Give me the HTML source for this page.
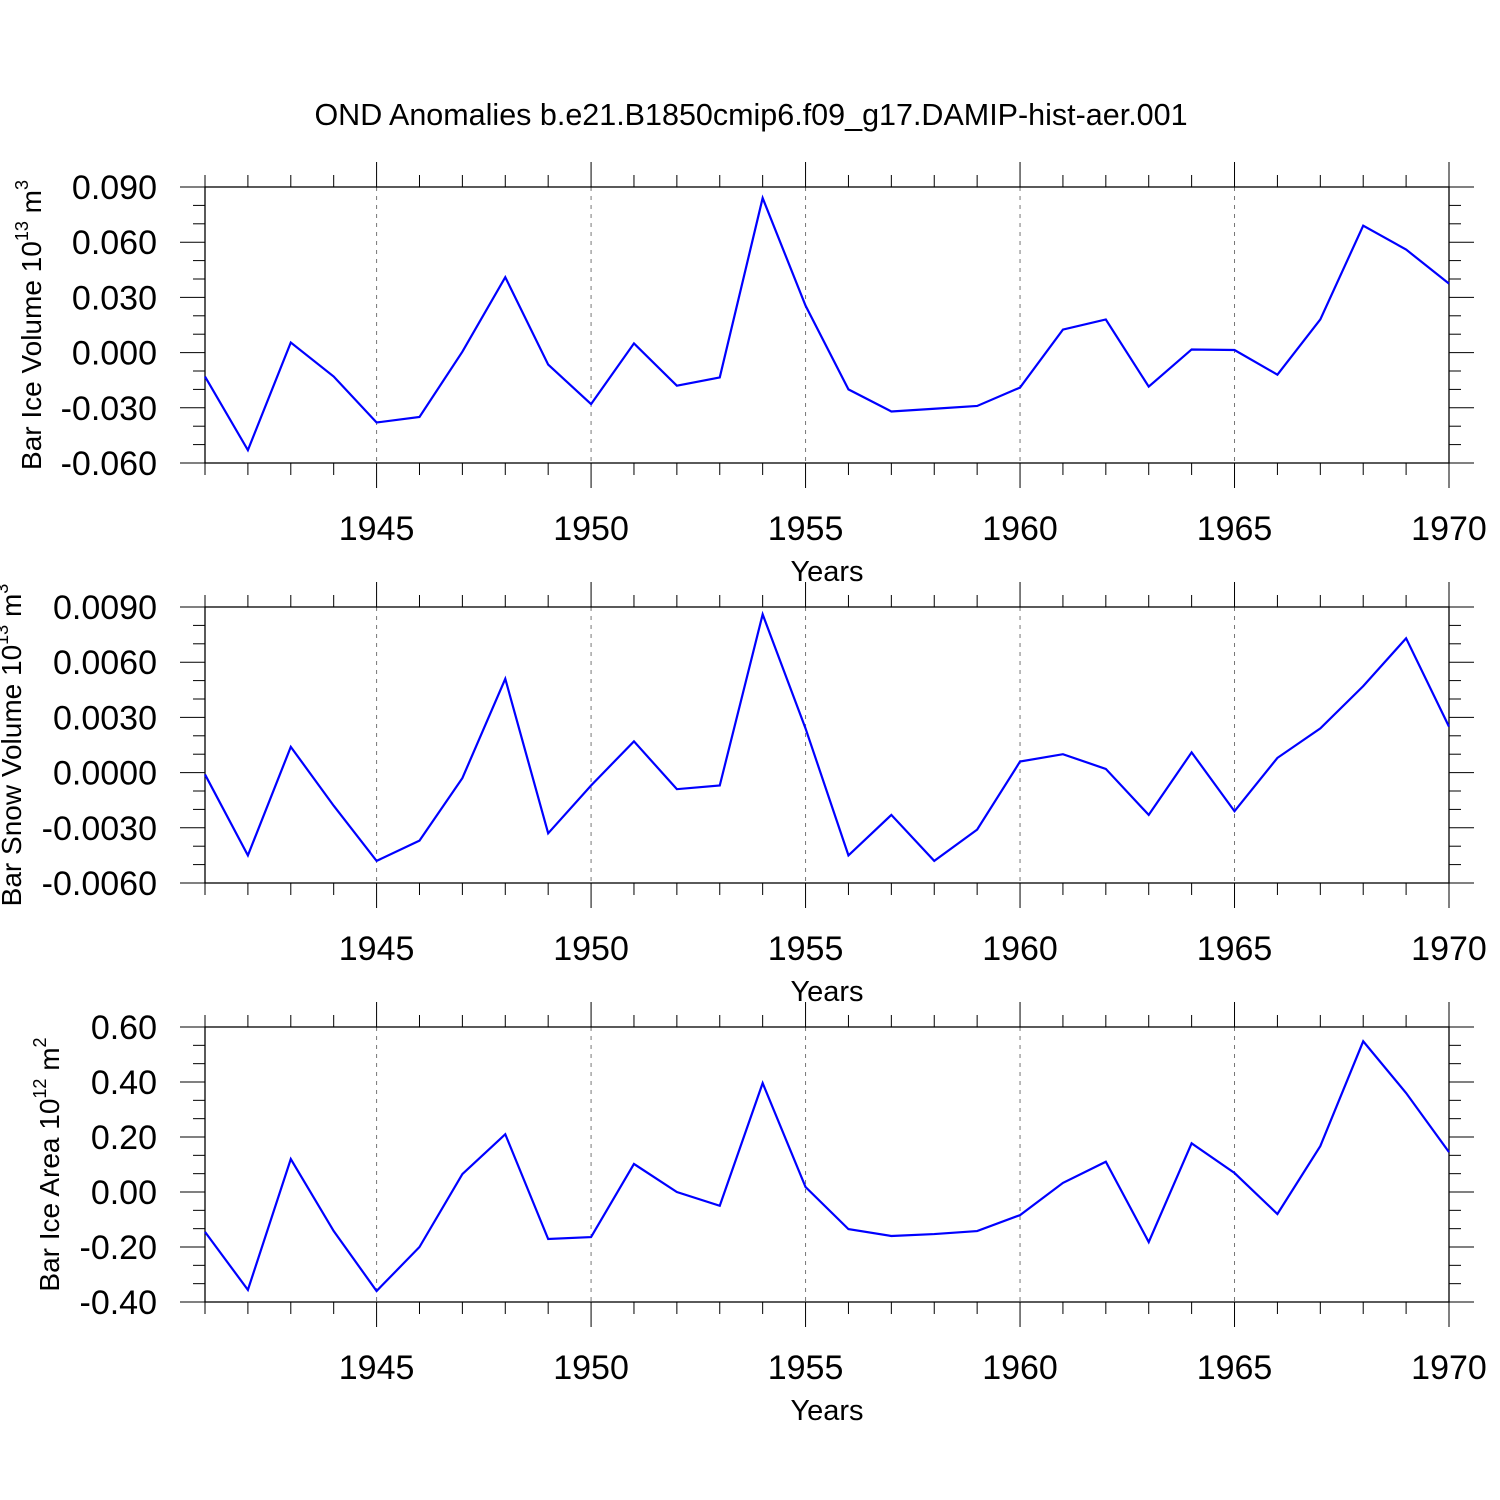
<!DOCTYPE html>
<html><head><meta charset="utf-8"><style>
html,body{margin:0;padding:0;background:#fff}
svg{display:block;font-family:"Liberation Sans",Arial,sans-serif}
</style></head><body>
<svg id="chart" width="1500" height="1500" viewBox="0 0 1500 1500">
<rect width="1500" height="1500" fill="#fff"/>
<text x="751" y="125" font-size="30.5" text-anchor="middle">OND Anomalies b.e21.B1850cmip6.f09_g17.DAMIP-hist-aer.001</text>
</svg>
<script>
const years = [1941,1942,1943,1944,1945,1946,1947,1948,1949,1950,1951,1952,1953,1954,1955,1956,1957,1958,1959,1960,1961,1962,1963,1964,1965,1966,1967,1968,1969,1970];
const iceVolume = [-0.013,-0.053,0.0055,-0.013,-0.038,-0.035,0.0005,0.041,-0.0065,-0.028,0.005,-0.018,-0.0135,0.084,0.0255,-0.020,-0.032,-0.0305,-0.029,-0.019,0.0125,0.018,-0.0185,0.0017,0.0014,-0.012,0.018,0.069,0.056,0.0375];
const snowVolume = [-0.0001,-0.0045,0.0014,-0.0018,-0.0048,-0.0037,-0.0003,0.0051,-0.0033,-0.0007,0.0017,-0.0009,-0.0007,0.0086,0.0024,-0.0045,-0.0023,-0.0048,-0.0031,0.0006,0.001,0.0002,-0.0023,0.0011,-0.0021,0.0008,0.0024,0.0047,0.0073,0.0025];
const iceArea = [-0.145,-0.356,0.12,-0.142,-0.36,-0.2,0.065,0.21,-0.171,-0.164,0.102,0.0,-0.05,0.396,0.018,-0.135,-0.16,-0.153,-0.142,-0.084,0.033,0.11,-0.182,0.177,0.069,-0.08,0.167,0.548,0.36,0.145];
const xTicks = [1945,1950,1955,1960,1965,1970];
const iceVolTicks = [-0.06,-0.03,0,0.03,0.06,0.09];
const snowVolTicks = [-0.006,-0.003,0,0.003,0.006,0.009];
const iceAreaTicks = [-0.4,-0.2,0,0.2,0.4,0.6];

const NS="http://www.w3.org/2000/svg";
const svg=document.getElementById('chart');
function mk(tag,attrs,parent){const e=document.createElementNS(NS,tag);for(const k in attrs)e.setAttribute(k,attrs[k]);(parent||svg).appendChild(e);return e;}
const X0=205,X1=1449;
function xs(y){return X0+(y-1941)/(1970-1941)*(X1-X0);}

const panels=[
 {top:187,bot:463,data:iceVolume,ticks:iceVolTicks,dec:3,minor:3,name:'ice-volume',title:'Bar Ice Volume 10',sup:'13',unit:'m',usup:'3',tx:41},
 {top:607,bot:883,data:snowVolume,ticks:snowVolTicks,dec:4,minor:3,name:'snow-volume',title:'Bar Snow Volume 10',sup:'13',unit:'m',usup:'3',tx:21},
 {top:1027,bot:1302,data:iceArea,ticks:iceAreaTicks,dec:2,minor:3,name:'ice-area',title:'Bar Ice Area 10',sup:'12',unit:'m',usup:'2',tx:59}
];
panels.forEach(p=>{
 const g=mk('g',{});
 
 
 const tmin=p.ticks[0],tmax=p.ticks[p.ticks.length-1];
 const ys=v=>p.bot-(v-tmin)/(tmax-tmin)*(p.bot-p.top);
 xTicks.forEach(t=>{if(t<1970){const l=mk('line',{x1:xs(t),x2:xs(t),y1:p.top,y2:p.bot,stroke:'#777','stroke-width':1,'stroke-dasharray':'4,5'},g);
  }});
 const fr=mk('rect',{x:X0,y:p.top,width:X1-X0,height:p.bot-p.top,fill:'none',stroke:'#000','stroke-width':1.3},g);
 
 for(let y=1941;y<=1970;y++){const maj=xTicks.includes(y);const L=maj?25:12;
  mk('line',{x1:xs(y),x2:xs(y),y1:p.top-L,y2:p.top,stroke:'#000','stroke-width':1},g);
  mk('line',{x1:xs(y),x2:xs(y),y1:p.bot,y2:p.bot+L,stroke:'#000','stroke-width':1},g);}
 xTicks.forEach(t=>{const tx=mk('text',{x:xs(t),y:p.bot+77,'font-size':34,'text-anchor':'middle'},g);tx.textContent=t;
  });
 const xt=mk('text',{x:827,y:p.bot+118,'font-size':29,'text-anchor':'middle'},g);xt.textContent='Years';
 
 const step=p.ticks[1]-p.ticks[0];
 for(let i=0;i<p.ticks.length;i++){const v=p.ticks[i];const y=ys(v);
  mk('line',{x1:X0-25,x2:X0,y1:y,y2:y,stroke:'#000','stroke-width':1},g);
  mk('line',{x1:X1,x2:X1+25,y1:y,y2:y,stroke:'#000','stroke-width':1},g);
  const tl=mk('text',{x:157,y:y+12,'font-size':34,'text-anchor':'end'},g);
  tl.textContent=(Math.abs(v)<1e-12?0:v).toFixed(p.dec);
  
  if(i<p.ticks.length-1){for(let k=1;k<p.minor;k++){const yy=ys(v+step*k/p.minor);
   mk('line',{x1:X0-12,x2:X0,y1:yy,y2:yy,stroke:'#000','stroke-width':1},g);
   mk('line',{x1:X1,x2:X1+12,y1:yy,y2:yy,stroke:'#000','stroke-width':1},g);}}}
 const cy=(p.top+p.bot)/2;
 const yt=mk('text',{x:0,y:0,'font-size':28,'text-anchor':'middle',transform:`translate(${p.tx},${cy}) rotate(-90)`},g);
 
 yt.innerHTML=`${p.title}<tspan font-size="18" dy="-13">${p.sup}</tspan><tspan dy="13"> ${p.unit}</tspan><tspan font-size="18" dy="-13">${p.usup}</tspan>`;
 const pts=years.map((yr,i)=>xs(yr)+','+ys(p.data[i])).join(' ');
 const pl=mk('polyline',{points:pts,fill:'none',stroke:'#0000ff','stroke-width':2.2,'stroke-linejoin':'miter'},g);
 
});
</script>
</body></html>
